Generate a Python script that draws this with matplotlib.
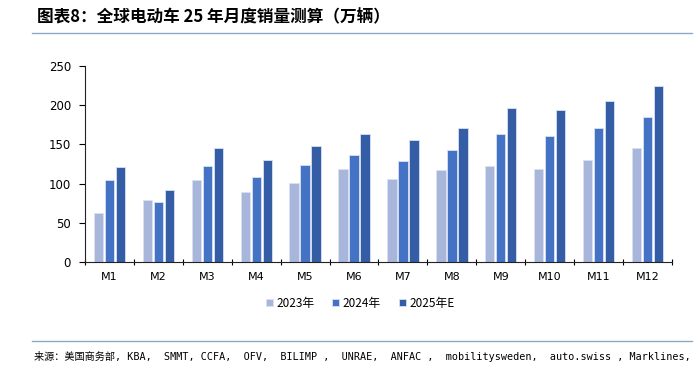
import matplotlib
matplotlib.use("Agg")
import matplotlib.pyplot as plt
import numpy as np
from matplotlib.lines import Line2D

plt.rcParams['font.family'] = ['Noto Sans CJK SC', 'DejaVu Sans']

months = ["M1", "M2", "M3", "M4", "M5", "M6", "M7", "M8", "M9", "M10", "M11", "M12"]
sales_2023 = [63, 78.5, 104, 89, 100.5, 118, 105.5, 117.5, 123, 118, 130.5, 145]
sales_2024 = [104, 77, 122.5, 108.5, 124, 136.5, 129, 143, 163.5, 161, 170.5, 185]
sales_2025E = [121, 91.5, 146, 130, 148, 163.5, 155, 170.5, 196.5, 193.5, 205, 224.5]
series_names = ["2023年", "2024年", "2025年E"]
colors = ["#A9B6DC", "#4472C4", "#355DA5"]

fig = plt.figure(figsize=(6.96, 3.69), dpi=100)
ax = fig.add_axes([85/696, 1-262/369, (672-85)/696, (262-66)/369])

x = np.arange(len(months))
w = 0.19
offs = [-0.225, 0, 0.225]
for vals, off, c, name in zip([sales_2023, sales_2024, sales_2025E], offs, colors, series_names):
    ax.bar(x + off, vals, width=w, color=c, edgecolor="#D9E1F2", linewidth=0.6, label=name)

ax.set_xlim(-0.5, len(months) - 0.5)
ax.set_ylim(0, 250)
ax.set_yticks([0, 50, 100, 150, 200, 250])
ax.set_xticks(x)
ax.set_xticklabels(months, fontsize=8, family=['DejaVu Sans'])
ax.set_xticks(np.arange(-0.5, len(months)), minor=True)
ax.tick_params(axis='x', which='major', length=0, pad=7)
ax.tick_params(axis='x', which='minor', length=4, direction='inout', width=0.8)
ax.tick_params(axis='y', length=4, direction='out', width=0.8, labelsize=8.5, pad=6)
for lab in ax.get_yticklabels():
    lab.set_family(['DejaVu Sans'])
for s in ['top', 'right']:
    ax.spines[s].set_visible(False)
ax.spines['left'].set_color('#222222')
ax.spines['bottom'].set_color('#222222')
ax.spines['left'].set_linewidth(0.8)
ax.spines['bottom'].set_linewidth(0.8)

leg = fig.legend(loc='center', bbox_to_anchor=(360/696, 1-303/369), ncol=3, frameon=False,
                 fontsize=8.5, handlelength=0.6, handleheight=0.6, handletextpad=0.3,
                 columnspacing=1.5)

fig.text(37/696, 1-17/369, "图表8：全球电动车 25 年月度销量测算（万辆）", fontsize=12,
         fontweight='bold', style='italic', va='center', ha='left', color='black')
fig.add_artist(Line2D([32/696, 692/696], [1-33/369, 1-33/369], color='#8FA9C4', linewidth=1.0))
fig.add_artist(Line2D([32/696, 692/696], [1-341/369, 1-341/369], color='#8FA9C4', linewidth=1.0))
fig.text(34/696, 1-356/369,
         "来源：美国商务部, KBA,  SMMT, CCFA,  OFV,  BILIMP ,  UNRAE,  ANFAC ,  mobilitysweden,  auto.swiss , Marklines,",
         fontsize=7.3, va='center', ha='left', color='black',
         family=['DejaVu Sans Mono', 'Noto Sans CJK SC'])

fig.savefig("out.png", dpi=100)
